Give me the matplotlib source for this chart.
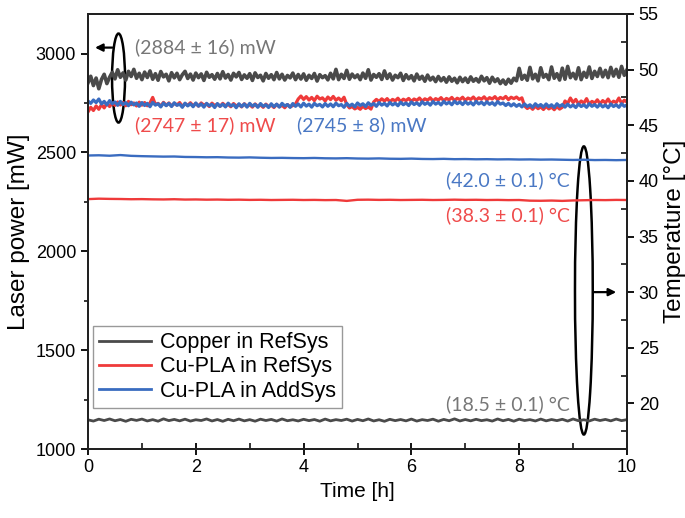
"""
Laser power and temperature over 10 h for the three heat sink setups
"""
import numpy as np
import matplotlib
matplotlib.use("Agg")
import matplotlib.pyplot as plt
from matplotlib.patches import Ellipse
from matplotlib.ticker import MultipleLocator

# ---- data -------------------------------------------------------------
labels = ["Copper in RefSys", "Cu-PLA in RefSys", "Cu-PLA in AddSys"]

# laser power [mW], one value every 0.05 h
power_copper = [
    2852, 2885, 2838, 2876, 2822, 2869, 2895, 2848, 2880, 2905,
    2872, 2918, 2880, 2902, 2866, 2910, 2884, 2920, 2875, 2900,
    2868, 2906, 2879, 2912, 2870, 2898, 2865, 2909, 2882, 2895,
    2862, 2903, 2877, 2900, 2868, 2893, 2910, 2874, 2896, 2866,
    2901, 2878, 2897, 2864, 2905, 2880, 2893, 2870, 2899, 2872,
    2908, 2876, 2894, 2866, 2900, 2882, 2904, 2869, 2892, 2875,
    2898, 2864, 2902, 2879, 2890, 2862, 2899, 2875, 2893, 2868,
    2904, 2872, 2895, 2866, 2889, 2877, 2901, 2868, 2894, 2871,
    2897, 2865, 2890, 2874, 2899, 2861, 2893, 2878, 2888, 2867,
    2900, 2872, 2920, 2868, 2895, 2874, 2915, 2870, 2896, 2878,
    2892, 2868, 2901, 2875, 2918, 2866, 2894, 2880, 2898, 2869,
    2912, 2874, 2897, 2866, 2890, 2878, 2900, 2864, 2893, 2872,
    2888, 2862, 2896, 2870, 2885, 2860, 2891, 2866, 2880, 2858,
    2884, 2862, 2878, 2855, 2882, 2860, 2875, 2852, 2880, 2858,
    2876, 2854, 2882, 2860, 2873, 2856, 2885, 2862, 2878, 2850,
    2880, 2858, 2872, 2848, 2866, 2845, 2870, 2850, 2875, 2862,
    2925, 2870, 2890, 2865, 2930, 2872, 2895, 2862, 2928, 2880,
    2894, 2868, 2932, 2875, 2898, 2866, 2926, 2870, 2935, 2878,
    2900, 2872, 2928, 2868, 2905, 2880, 2932, 2874, 2910, 2884,
    2925, 2882, 2915, 2878, 2930, 2886, 2920, 2880, 2935, 2890,
    2918,
]
power_pla_ref = [
    2705, 2728, 2712, 2735, 2718, 2742, 2725, 2748, 2732, 2750,
    2738, 2755, 2740, 2752, 2736, 2758, 2741, 2750, 2735, 2754,
    2739, 2752, 2736, 2750, 2778, 2742, 2748, 2734, 2753, 2738,
    2750, 2735, 2748, 2740, 2752, 2733, 2746, 2738, 2751, 2736,
    2747, 2734, 2750, 2739, 2745, 2732, 2749, 2737, 2744, 2733,
    2748, 2736, 2743, 2731, 2747, 2735, 2742, 2730, 2746, 2734,
    2741, 2729, 2745, 2733, 2740, 2728, 2744, 2732, 2739, 2727,
    2743, 2731, 2738, 2726, 2742, 2730, 2737, 2745, 2770, 2785,
    2768, 2782, 2765, 2778, 2762, 2784, 2770, 2776, 2760, 2780,
    2767, 2783, 2764, 2775, 2761, 2779, 2742, 2725, 2732, 2720,
    2728, 2718, 2733, 2722, 2730, 2719, 2755, 2768, 2758, 2771,
    2760, 2772, 2756, 2768, 2761, 2774, 2757, 2769, 2762, 2773,
    2758, 2770, 2763, 2775, 2759, 2771, 2764, 2776, 2760, 2772,
    2765, 2777, 2761, 2773, 2766, 2778, 2762, 2774, 2767, 2779,
    2763, 2775, 2768, 2780, 2764, 2776, 2769, 2781, 2765, 2777,
    2770, 2782, 2766, 2778, 2771, 2783, 2767, 2779, 2772, 2780,
    2768, 2776, 2735, 2722, 2731, 2718, 2734, 2721, 2730, 2717,
    2733, 2720, 2729, 2716, 2732, 2719, 2728, 2760, 2748, 2775,
    2752, 2768, 2745, 2760, 2749, 2772, 2744, 2758, 2750, 2766,
    2746, 2762, 2751, 2770, 2747, 2759, 2752, 2775, 2748, 2764,
    2755,
]
power_pla_add = [
    2760, 2748, 2765, 2752, 2770, 2745, 2758, 2740, 2762, 2746,
    2755, 2738, 2758, 2742, 2752, 2736, 2754, 2740, 2750, 2733,
    2752, 2737, 2748, 2731, 2753, 2739, 2746, 2730, 2750, 2736,
    2748, 2732, 2751, 2738, 2744, 2728, 2749, 2735, 2746, 2731,
    2750, 2734, 2745, 2729, 2748, 2736, 2743, 2727, 2747, 2733,
    2744, 2730, 2749, 2735, 2742, 2726, 2746, 2732, 2745, 2729,
    2748, 2734, 2743, 2728, 2747, 2733, 2741, 2727, 2746, 2731,
    2744, 2729, 2748, 2735, 2742, 2728, 2747, 2733, 2745, 2730,
    2749, 2734, 2744, 2729, 2748, 2736, 2743, 2730, 2747, 2733,
    2745, 2731, 2749, 2736, 2742, 2728, 2748, 2734, 2744, 2730,
    2750, 2737, 2746, 2732, 2751, 2738, 2747, 2733, 2752, 2739,
    2748, 2735, 2753, 2740, 2749, 2736, 2754, 2741, 2750, 2737,
    2755, 2742, 2751, 2738, 2756, 2743, 2752, 2739, 2757, 2744,
    2753, 2740, 2758, 2745, 2754, 2741, 2759, 2746, 2755, 2742,
    2757, 2744, 2753, 2740, 2758, 2745, 2754, 2741, 2756, 2743,
    2752, 2739, 2757, 2744, 2750, 2737, 2748, 2735, 2746, 2733,
    2743, 2730, 2745, 2732, 2741, 2728, 2746, 2733, 2742, 2729,
    2745, 2731, 2741, 2727, 2746, 2733, 2742, 2729, 2744, 2730,
    2740, 2727, 2745, 2732, 2741, 2728, 2746, 2733, 2742, 2729,
    2744, 2730, 2740, 2726, 2745, 2732, 2741, 2728, 2746, 2733,
    2740,
]

# temperature [°C]
temp_copper = [  # every 0.1 h
    18.52, 18.41, 18.58, 18.46, 18.60, 18.44, 18.55, 18.39, 18.57, 18.47,
    18.59, 18.42, 18.54, 18.40, 18.61, 18.45, 18.56, 18.43, 18.58, 18.41,
    18.53, 18.46, 18.60, 18.42, 18.55, 18.39, 18.57, 18.44, 18.59, 18.43,
    18.54, 18.40, 18.58, 18.46, 18.56, 18.41, 18.60, 18.44, 18.53, 18.42,
    18.57, 18.45, 18.55, 18.40, 18.59, 18.43, 18.54, 18.46, 18.58, 18.41,
    18.56, 18.44, 18.60, 18.42, 18.53, 18.39, 18.57, 18.45, 18.55, 18.43,
    18.59, 18.41, 18.54, 18.46, 18.58, 18.40, 18.56, 18.44, 18.61, 18.42,
    18.55, 18.43, 18.57, 18.45, 18.53, 18.41, 18.60, 18.44, 18.56, 18.40,
    18.58, 18.46, 18.54, 18.42, 18.59, 18.43, 18.55, 18.45, 18.57, 18.41,
    18.60, 18.44, 18.53, 18.42, 18.58, 18.46, 18.56, 18.43, 18.59, 18.45,
    18.54,
]
temp_pla_ref = [  # every 0.2 h
    38.36, 38.40, 38.38, 38.37, 38.35, 38.36, 38.34, 38.33, 38.35, 38.32,
    38.33, 38.31, 38.32, 38.30, 38.31, 38.29, 38.30, 38.28, 38.29, 38.30,
    38.28, 38.29, 38.27, 38.28, 38.20, 38.30, 38.31, 38.29, 38.30, 38.28,
    38.29, 38.30, 38.28, 38.29, 38.31, 38.29, 38.30, 38.28, 38.29, 38.27,
    38.28, 38.22, 38.21, 38.23, 38.20, 38.24, 38.26, 38.28, 38.27, 38.29,
    38.28,
]
temp_pla_add = [  # every 0.2 h
    42.28, 42.30, 42.26, 42.32, 42.25, 42.22, 42.20, 42.18, 42.19, 42.15,
    42.14, 42.12, 42.13, 42.10, 42.09, 42.11, 42.08, 42.06, 42.07, 42.05,
    42.04, 42.06, 42.03, 42.02, 42.04, 42.01, 42.00, 42.02, 41.99, 41.98,
    42.00, 41.97, 41.96, 41.98, 41.95, 41.96, 41.94, 41.95, 41.93, 41.94,
    41.92, 41.93, 41.91, 41.92, 41.90, 41.88, 41.90, 41.87, 41.88, 41.86,
    41.88,
]

power_notes = ["(2884 ± 16) mW", "(2747 ± 17) mW", "(2745 ± 8) mW"]
temp_notes = ["(18.5 ± 0.1) °C", "(38.3 ± 0.1) °C", "(42.0 ± 0.1) °C"]

# ---- style ---------------------------------------------------------------
plt.rcParams["font.family"] = ["Liberation Sans", "DejaVu Sans"]
NOTE_FONT = ["Lato", "DejaVu Sans"]

line_colors = ["#4a4a4a", "#ef3a3a", "#3a6cc0"]
note_colors = ["#777777", "#ef4b4b", "#4a78c4"]


def time_axis(values):
    """Evenly spaced time stamps over the 10 h run"""
    return np.linspace(0, 10, len(values))


fig = plt.figure(figsize=(6.85, 5.18), dpi=100)
ax = fig.add_axes([0.1285, 0.1332, 0.7868, 0.8398])
ax2 = ax.twinx()

# power curves on the left axis (blue drawn last, on top)
handles = []
for series, color, lw in zip([power_copper, power_pla_ref, power_pla_add],
                             line_colors, [2.6, 2.3, 2.3]):
    (line,) = ax.plot(time_axis(series), series, color=color, lw=lw)
    handles.append(line)

# temperature curves on the right axis
ax2.plot(time_axis(temp_copper), temp_copper, color=line_colors[0], lw=2.0)
ax2.plot(time_axis(temp_pla_ref), temp_pla_ref, color=line_colors[1], lw=1.7)
ax2.plot(time_axis(temp_pla_add), temp_pla_add, color=line_colors[2], lw=1.7)

ax.set_xlim(0, 10)
ax.set_ylim(1000, 3200)
ax2.set_ylim(15.9, 55)

ax.xaxis.set_major_locator(MultipleLocator(2))
ax.xaxis.set_minor_locator(MultipleLocator(1))
ax.yaxis.set_major_locator(MultipleLocator(500))
ax.yaxis.set_minor_locator(MultipleLocator(250))
ax2.yaxis.set_major_locator(MultipleLocator(5))
ax2.yaxis.set_minor_locator(MultipleLocator(2.5))

ax.tick_params(axis="x", which="major", direction="inout", length=8, width=1.3,
               labelsize=13)
ax.tick_params(axis="x", which="minor", direction="in", length=4, width=1.1)
ax.tick_params(axis="y", which="major", direction="out", length=5, width=1.3,
               labelsize=13)
ax.tick_params(axis="y", which="minor", direction="out", length=3, width=1.1)
ax2.tick_params(which="major", direction="out", length=5, width=1.3, labelsize=13)
ax2.tick_params(which="minor", direction="in", length=4, width=1.1)
for a in (ax, ax2):
    for sp in a.spines.values():
        sp.set_linewidth(1.4)
        sp.set_color("#222222")

ax.set_xlabel("Time [h]", fontsize=15)
ax.set_ylabel("Laser power [mW]", fontsize=17.5)
ax2.set_ylabel("Temperature [°C]", fontsize=17.5)

# value notes
ax.text(0.87, 3030, power_notes[0], color=note_colors[0], fontsize=14,
        family=NOTE_FONT, va="center", ha="left")
ax.text(0.87, 2636, power_notes[1], color=note_colors[1], fontsize=14,
        family=NOTE_FONT, va="center", ha="left")
ax.text(3.88, 2636, power_notes[2], color=note_colors[2], fontsize=14,
        family=NOTE_FONT, va="center", ha="left")
ax2.text(8.94, 19.9, temp_notes[0], color=note_colors[0], fontsize=14,
         family=NOTE_FONT, va="center", ha="right")
ax2.text(8.94, 36.9, temp_notes[1], color=note_colors[1], fontsize=14,
         family=NOTE_FONT, va="center", ha="right")
ax2.text(8.94, 40.1, temp_notes[2], color=note_colors[2], fontsize=14,
         family=NOTE_FONT, va="center", ha="right")

# ellipses with arrows pointing to the matching axis
arrow = dict(arrowstyle="-|>", color="black", lw=1.6, mutation_scale=11,
             shrinkA=0, shrinkB=0)
ax.add_patch(Ellipse((0.566, 2876), 0.24, 450, fill=False, lw=1.8, ec="black",
                     clip_on=False))
ax.annotate("", xy=(0.13, 3030), xytext=(0.45, 3030), arrowprops=arrow)
ax2.add_patch(Ellipse((9.2, 30.15), 0.33, 25.9, fill=False, lw=1.8, ec="black",
                      clip_on=False))
ax2.annotate("", xy=(9.8, 30), xytext=(9.37, 30), arrowprops=arrow)

leg = ax2.legend(handles, labels, loc="lower left", bbox_to_anchor=(0.009, 0.094),
                 borderaxespad=0, fontsize=15.5, handlelength=2.4,
                 handletextpad=0.4, labelspacing=0.15, fancybox=False,
                 framealpha=1, edgecolor="#999999", borderpad=0.3)
leg.get_frame().set_linewidth(1.0)
for h in leg.get_lines():
    h.set_linewidth(2.0)

fig.savefig("out.png", dpi=100)
